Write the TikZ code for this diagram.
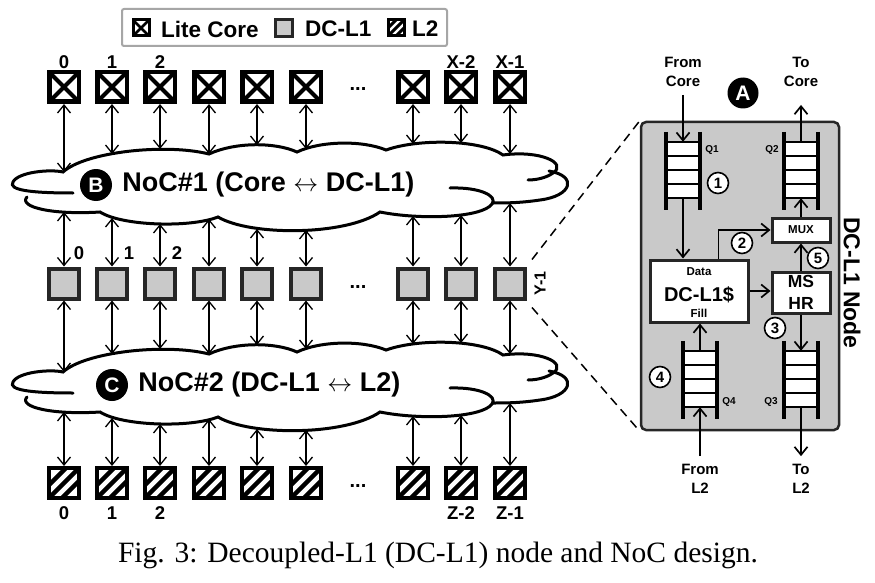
\documentclass[tikz,border=0pt]{standalone}
\usepackage{fontspec}
\setmainfont{Liberation Serif}
\newfontfamily\hv{Liberation Sans}
\usetikzlibrary{arrows.meta,positioning,calc}
\newcommand{\fsz}[1]{\fontsize{#1}{#1}\selectfont}
\newcommand{\queuelines}[1]{%
  \foreach \k in {0,...,4}
    \draw[line width=2.4pt] ([yshift={-\k*14pt}]#1.north west) -- ([yshift={-\k*14pt}]#1.north east);
  \draw[line width=3.5pt] ([yshift=10pt]#1.north west) -- ([yshift=-12pt]#1.south west)
    ([yshift=10pt]#1.north east) -- ([yshift=-12pt]#1.south east);}

\begin{document}
\begin{tikzpicture}[x=1pt,y=-1pt,
  >={Straight Barb[length=8pt,width=13pt]},
  link/.style={<->,line width=1.3pt},
  flow/.style={->,line width=1.7pt},
  nocline/.style={line width=3pt,line cap=round},
  corebox/.style={draw,line width=4.5pt,fill=white,minimum size=29.5pt,inner sep=0pt,
    path picture={\draw[line width=#1] (path picture bounding box.north west) -- (path picture bounding box.south east)
      (path picture bounding box.north east) -- (path picture bounding box.south west);}},
  corebox/.default=4pt,
  dclbox/.style={draw=black!85,line width=4pt,fill=gray!42,minimum size=30pt,inner sep=0pt},
  l2box/.style n args={2}{draw,line width=4pt,fill=white,minimum size=30pt,inner sep=0pt,
    path picture={\foreach \d in {-#1,0,#1}
      \draw[line width=#2] ([shift={(\d pt-20pt,-20pt)}]path picture bounding box.center)
        -- ([shift={(\d pt+20pt,20pt)}]path picture bounding box.center);}},
  lbl/.style={font=\hv\bfseries\fsz{18.5},inner sep=0pt},
  dots/.style={font=\hv\bfseries\fsz{20},inner sep=0pt},
  legtext/.style={font=\hv\bfseries\fsz{22.5},inner sep=0pt,anchor=west},
  badge/.style={circle,fill=black,text=white,font=\hv\bfseries\fsz{21},minimum size=32pt,inner sep=0pt},
  noctext/.style={font=\hv\bfseries\fsz{27},inner sep=0pt},
  io/.style={font=\hv\bfseries\fontsize{15}{19}\selectfont,align=center,inner sep=8pt},
  qcell/.style={fill=white,minimum width=34pt,minimum height=56pt,inner sep=0pt},
  qlbl/.style={font=\hv\bfseries\fsz{10},inner sep=0pt},
  num/.style={circle,draw,line width=1.6pt,fill=white,minimum size=21pt,inner sep=0pt,font=\hv\bfseries\fsz{15}},
  unit/.style={draw=black!85,line width=3pt,fill=white,inner sep=0pt},
  panelbox/.style={draw=black!85,line width=2.5pt,fill=gray!42,rounded corners=5pt},
  zoomline/.style={line width=1.5pt,dash pattern=on 9pt off 6pt}]
\fill[white] (0,0) rectangle (875,583);
\useasboundingbox (0,0) rectangle (875,583);

% legend
\node (legend) at (284.5,27.5) [draw=gray!70,line width=2pt,rounded corners=2pt,minimum width=325pt,minimum height=37pt,fill=white] {};
\node (lgcore) at (141,28) [corebox=2.8pt,minimum size=16pt,line width=3pt] {};
\node (lgcoretxt) at (161,29) [legtext] {Lite Core};
\node (lgdcl) at (284,28) [dclbox,minimum size=17pt,line width=2.5pt] {};
\node (lgdcltxt) at (305,29) [legtext] {DC-L1};
\node (lgl2) at (396,28) [l2box={8}{3pt},minimum size=16pt,line width=3pt] {};
\node (lgl2txt) at (412,29) [legtext] {L2};

% the two NoC clouds
\foreach \dy in {0,200}
  \draw[nocline,shift={(0,\dy)}] (73,193) .. controls (30,193) and (8,190) .. (13,182)
    .. controls (18,172) and (50,169) .. (63,172)
    .. controls (85,152) and (165,143) .. (209,154)
    .. controls (235,142) and (275,142) .. (297,152)
    .. controls (320,141) and (362,140) .. (386,150)
    .. controls (420,138) and (482,140) .. (503,155)
    .. controls (540,150) and (568,163) .. (553,173)
    .. controls (546,178) and (536,180) .. (528,180)
    (549,171) .. controls (578,176) and (572,196) .. (540,200)
    .. controls (520,203) and (505,203) .. (493,203)
    (450,188) .. controls (480,187) and (498,196) .. (492,204)
    .. controls (482,218) and (420,220) .. (380,212)
    .. controls (345,236) and (250,236) .. (218,217)
    .. controls (190,228) and (122,226) .. (100,212)
    .. controls (52,215) and (18,207) .. (27,197);
\node (bB) at (96,185) [badge] {B};
\node (noc1) [noctext,right=10pt of bB] {NoC\#1 (Core $\leftrightarrow$ DC-L1)};
\node (bC) at (112,385) [badge] {C};
\node (noc2) [noctext,right=10pt of bC] {NoC\#2 (DC-L1 $\leftrightarrow$ L2)};

% rows of cores, DC-L1s and L2s
\foreach \i/\x/\ta/\ba in {0/64/172/212,1/112/154/218,2/160/149/224,3/209/154/219,4/257/145/229,
    5/306/149/230,6/413/144/216,7/461/143/215,8/510/154/203} {
  \node (c\i) at (\x,87) [corebox] {};
  \node (d\i) at (\x,283.5) [dclbox] {};
  \node (l\i) at (\x,483) [l2box={13}{4.5pt}] {};
  \coordinate (na\i) at (\x,\ta);
  \coordinate (nb\i) at (\x,\ba);
  \coordinate (ma\i) at (\x,\ta+200);
  \coordinate (mb\i) at (\x,\ba+200);
  \draw[link] (c\i) -- (na\i);
  \draw[link] (nb\i) -- (d\i);
  \draw[link] (d\i) -- (ma\i);
  \draw[link] (mb\i) -- (l\i);
}
\node (cdots) at (358,89) [dots] {...};
\node (ddots) at (358,287) [dots] {...};
\node (ldots) at (358,486) [dots] {...};

\node (cl0) at (64,62) [lbl] {0};
\node (cl1) at (112,62) [lbl] {1};
\node (cl2) at (160,62) [lbl] {2};
\node (cl7) at (461,62) [lbl] {X-2};
\node (cl8) at (510,62) [lbl] {X-1};
\node (dl0) at (79,253) [lbl] {0};
\node (dl1) at (129,253) [lbl] {1};
\node (dl2) at (177,253) [lbl] {2};
\node (dl8) at (540,283.5) [lbl,font=\hv\bfseries\fsz{16},rotate=90] {Y-1};
\node (ll0) at (64,513) [lbl] {0};
\node (ll1) at (112,513) [lbl] {1};
\node (ll2) at (160,513) [lbl] {2};
\node (ll7) at (461,513) [lbl] {Z-2};
\node (ll8) at (510,513) [lbl] {Z-1};

% DC-L1 node detail
\node (panel) at (740,276) [panelbox,minimum width=198pt,minimum height=308pt] {};
\draw[zoomline] ($(d8.north east)+(5,-7)$) -- (panel.north west);
\draw[zoomline] ($(d8.south east)+(5,7)$) -- (panel.south west);
\node (title) at (852,283) [rotate=-90,font=\hv\bfseries\fsz{23},inner sep=0pt] {DC-L1 Node};
\node (bA) at (743,93) [badge,minimum size=31pt] {A};

\node (fromcore) at (683,72) [io] {From\\Core};
\node (tocore) at (801,72) [io] {To\\Core};
\node (froml2) at (700,479) [io] {From\\L2};
\node (tol2) at (801,479) [io] {To\\L2};

\node (q1) at (683,170) [qcell] {};
\queuelines{q1}
\node (q2) at (801,170) [qcell] {};
\queuelines{q2}
\node (q3) at (801,379) [qcell] {};
\queuelines{q3}
\node (q4) at (700,379) [qcell] {};
\queuelines{q4}
\node (q1l) at (712,150) [qlbl] {Q1};
\node (q2l) at (772,150) [qlbl] {Q2};
\node (q3l) at (771,402) [qlbl] {Q3};
\node (q4l) at (729,402) [qlbl] {Q4};

\node (cache) at (699,291) [unit,minimum width=98pt,minimum height=62pt] {};
\node (cdata) at (699,272) [qlbl,font=\hv\bfseries\fsz{11.5}] {Data};
\node (cname) at (699,295) [qlbl,font=\hv\bfseries\fsz{20}] {DC-L1\$};
\node (cfill) at (699,313) [qlbl,font=\hv\bfseries\fsz{11.5}] {Fill};
\node (mux) at (801,230) [unit,minimum width=58pt,minimum height=24pt,font=\hv\bfseries\fsz{11.5}] {MUX};
\node (mshr) at (801,292.5) [unit,minimum width=58pt,minimum height=41pt,align=center,font=\hv\bfseries\fontsize{17.5}{22}\selectfont] {MS\\HR};

\draw[flow] (fromcore) -- (q1.north);
\draw[flow,shorten >=10pt] (q2.north) -- (tocore);
\draw[flow] (q1.south) -- (q1.south |- cache.north);
\draw[flow] ([xshift=-31pt]cache.north east) |- (mux.west);
\draw[flow] (cache.east) -- (cache.east -| mshr.west);
\draw[flow] (mshr.north) -- (mux.south);
\draw[flow] (mux.north) -- (q2.south);
\draw[flow] (mshr.south) -- (q3.north);
\draw[flow] (q3.south) -- (tol2);
\draw[flow] (froml2) -- (q4.south);
\draw[flow] (q4.north) -- (q4.north |- cache.south);

\node (s1) at (718,183) [num] {1};
\node (s2) at (742,243) [num] {2};
\node (s3) at (775,328) [num] {3};
\node (s4) at (660,377) [num] {4};
\node (s5) at (818,258) [num] {5};

\node (caption) at (438,555) [font=\fsz{29.5},inner sep=0pt] {Fig. 3: Decoupled-L1 (DC-L1) node and NoC design.};
\end{tikzpicture}
\end{document}
